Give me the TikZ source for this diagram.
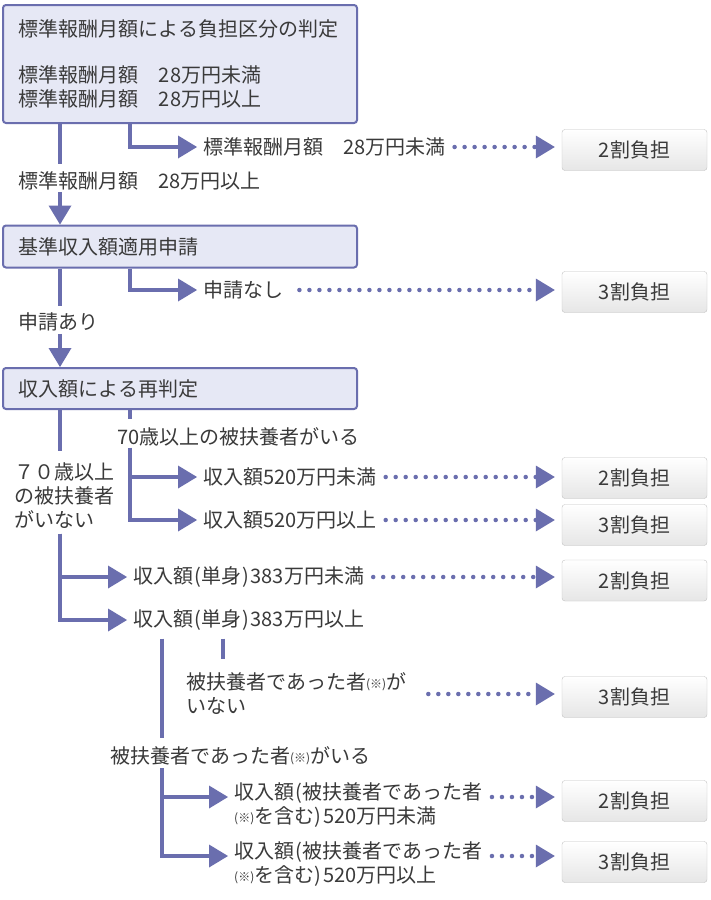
\documentclass[tikz,border=0pt]{standalone}
\usepackage{fontspec}
\setmainfont{Noto Sans CJK JP}
\usepackage{xcolor}
\usepackage{tikz}
\usetikzlibrary{arrows.meta}
\usetikzlibrary{positioning}

\definecolor{flowblue}{HTML}{6A6EAE}
\definecolor{stepfill}{HTML}{E6E8F5}
\definecolor{inkgray}{HTML}{3A3A3A}
\definecolor{resultedge}{HTML}{C2C2C2}
\definecolor{resultlow}{HTML}{E6E6E6}
\newcommand{\komemark}{\raisebox{1.5pt}{\fontsize{12}{12}\selectfont(※)}}
\newcommand{\lpar}{\kern1.5pt(\kern0.5pt}
\newcommand{\rpar}{\kern0.5pt)\kern1.5pt}

\begin{document}
\begin{tikzpicture}[
	x=1pt, y=-1pt,
	font=\fontsize{20}{24}\selectfont,
	text=inkgray
]
\tikzset{
    stepbox/.style = {rectangle, draw=flowblue, line width=2pt, fill=stepfill, rounded corners=3pt, anchor=west, align=left, text width=322pt, inner xsep=16pt, minimum height=41pt},
    resultbox/.style = {rectangle, draw=resultedge, rounded corners=3pt, top color=white, bottom color=resultlow, minimum width=145pt, minimum height=41pt, inner sep=0pt},
    branchtext/.style = {anchor=west, align=left, inner xsep=6pt, inner ysep=0pt},
    flowline/.style = {draw=flowblue, line width=4pt},
    flowarrow/.style = {flowline, -{Triangle[length=19pt,width=23pt,line width=0pt]}},
    dotarrow/.style = {draw=flowblue, line width=4.5pt, line cap=round, dash pattern=on 0pt off 10pt, -{Triangle[length=19pt,width=23pt,line width=0pt]}, shorten <=3pt, shorten >=7pt},
}
\fill[white] (0,0) rectangle (710,900);
\useasboundingbox (0,0) rectangle (710,900);

\coordinate (trunk) at (60,0);
\coordinate (branch) at (130,0);
\coordinate (sub) at (162,0);
\coordinate (subb) at (223,0);

% judgement boxes
\node[stepbox, minimum height=118pt] (judge) at (2,64) {標準報酬月額による負担区分の判定\\[22pt]標準報酬月額　28万円未満\\標準報酬月額　28万円以上};
\node[stepbox, minimum height=42pt] (apply) at (2,246.5) {基準収入額適用申請};
\node[stepbox] (recheck) at (2,388.5) {収入額による再判定};

% branch texts
\node[branchtext] (lowstd) at (197,147) {標準報酬月額　28万円未満};
\node[branchtext] (highstd) at (12,181) {標準報酬月額　28万円以上};
\node[branchtext] (nonetxt) at (197,290) {申請なし};
\node[branchtext] (yestxt) at (12,321.5) {申請あり};
\node[branchtext] (over70) at (111,436.5) {70歳以上の被扶養者がいる};
\node[branchtext] (low520) at (197,477) {収入額520万円未満};
\node[branchtext] (high520) at (197,520) {収入額520万円以上};
\node[branchtext] (no70) at (8,495.5) {７０歳以上\\の被扶養者\\がいない};
\node[branchtext] (single1) at (127,577) {収入額\lpar 単身\rpar 383万円未満};
\node[branchtext] (single2) at (127,620) {収入額\lpar 単身\rpar 383万円以上};
\node[branchtext] (notsupp) at (180,694) {被扶養者であった者\komemark が\\いない};
\node[branchtext] (hassupp) at (104,756) {被扶養者であった者\komemark がいる};
\node[branchtext, anchor=mid west] (supplow) at (228,821) {収入額\lpar 被扶養者であった者\\\komemark を含む\rpar 520万円未満};
\node[branchtext, anchor=mid west] (supphigh) at (228,880) {収入額\lpar 被扶養者であった者\\\komemark を含む\rpar 520万円以上};

% results
\node[resultbox] (res1) at (634.5,150) {2割負担};
\node[resultbox] (res2) at (634.5,292) {3割負担};
\node[resultbox] (res3) at (634.5,478) {2割負担};
\node[resultbox] (res4) at (634.5,525) {3割負担};
\node[resultbox] (res5) at (634.5,580.5) {2割負担};
\node[resultbox] (res6) at (634.5,697) {3割負担};
\node[resultbox] (res7) at (634.5,801) {2割負担};
\node[resultbox] (res8) at (634.5,862) {3割負担};

% main trunk
\draw[flowline, shorten >=8pt] (judge.south -| trunk) -- (highstd.north -| trunk);
\draw[flowarrow, shorten <=2pt] (highstd.south -| trunk) -- (apply.north -| trunk);
\draw[flowline, shorten >=6pt] (apply.south -| trunk) -- (yestxt.north -| trunk);
\draw[flowarrow, shorten <=3pt] (yestxt.south -| trunk) -- (recheck.north -| trunk);
\draw[flowline, shorten >=11pt] (recheck.south -| trunk) -- (no70.north -| trunk);
\draw[flowarrow, shorten <=5pt] (no70.south -| trunk) |- (single1.west);
\draw[flowarrow, shorten <=5pt] (no70.south -| trunk) |- (single2.west);

% side branches
\draw[flowarrow] (judge.south -| branch) |- (lowstd.west);
\draw[flowarrow] (apply.south -| branch) |- (nonetxt.west);
\draw[flowline, shorten >=8pt] (recheck.south -| branch) -- (over70.north -| branch);
\draw[flowarrow, shorten <=2pt] (over70.south -| branch) |- (low520.west);
\draw[flowarrow, shorten <=2pt] (over70.south -| branch) |- (high520.west);
\draw[flowline, shorten <=8pt, shorten >=9pt] (single2.south -| sub) -- (hassupp.north -| sub);
\draw[flowline, shorten <=8pt, shorten >=14pt] (single2.south -| subb) -- (notsupp.north -| subb);
\draw[flowarrow, shorten <=3pt] (hassupp.south -| sub) |- ([yshift=24pt]supplow.mid west);
\draw[flowarrow, shorten <=3pt] (hassupp.south -| sub) |- ([yshift=24pt]supphigh.mid west);

% dotted to results
\draw[dotarrow] (lowstd.east) -- (lowstd.east -| res1.west);
\draw[dotarrow, shorten <=10pt] (nonetxt.east) -- (nonetxt.east -| res2.west);
\draw[dotarrow] (low520.east) -- (low520.east -| res3.west);
\draw[dotarrow] (high520.east) -- (high520.east -| res4.west);
\draw[dotarrow] (single1.east) -- (single1.east -| res5.west);
\draw[dotarrow, shorten <=16pt] (notsupp.east) -- (notsupp.east -| res6.west);
\draw[dotarrow] ([yshift=24pt]supplow.mid east) -- ([yshift=24pt]supplow.mid east -| res7.west);
\draw[dotarrow] ([yshift=24pt]supphigh.mid east) -- ([yshift=24pt]supphigh.mid east -| res8.west);
\end{tikzpicture}
\end{document}
